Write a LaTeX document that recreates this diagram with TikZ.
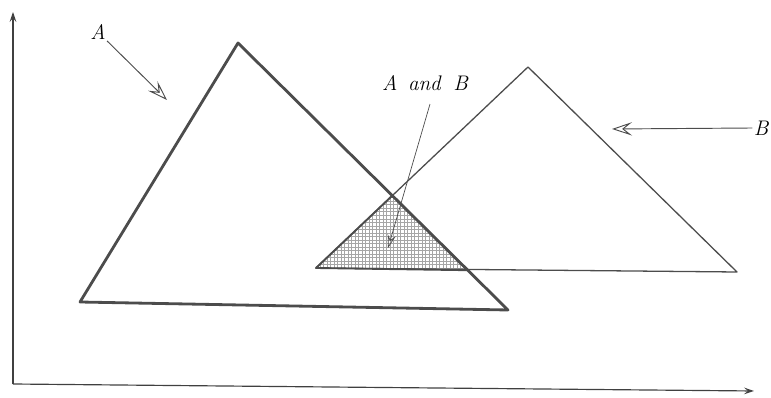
\documentclass[tikz,border=0pt]{standalone}
\usetikzlibrary{arrows.meta, patterns, calc}

\tikzset{
  tri/.style={draw=black!70, line join=round},
  lbl/.style={font=\fontsize{18}{21}\selectfont\itshape, inner sep=1pt},
  pointer/.style={draw=black!70, line width=0.8pt, -{Stealth[open, inset=2.5mm, length=6mm, width=4mm]}},
  axis/.style={draw=black!75, line width=1pt, -{Stealth[open, inset=1.2mm, length=3mm, width=2mm]}}
}

\begin{document}
\begin{tikzpicture}[x=0.3mm, y=-0.3mm]
    \useasboundingbox (0,0) rectangle (771,398);

    % axes
    \coordinate (O) at (13,384);
    \coordinate (ytop) at (13,12);
    \coordinate (xend) at (754,391);
    \draw[axis] (O) -- (ytop);
    \draw[axis] (O) -- (xend);

    % triangle A
    \coordinate (a1) at (80,302);
    \coordinate (a2) at (238,43);
    \coordinate (a3) at (508,310);
    % triangle B
    \coordinate (b1) at (316,268);
    \coordinate (b2) at (528,67);
    \coordinate (b3) at (737,272);
    % overlap
    \coordinate (c1) at (392.3,195.6);
    \coordinate (c2) at (467.5,270.2);

    \fill[pattern=grid, pattern color=black!35] (b1) -- (c1) -- (c2) -- cycle;
    \draw[tri, line width=1.6pt] (b1) -- (c1) -- (c2) -- cycle;
    \draw[tri, line width=1.1pt] (b1) -- (b2) -- (b3) -- cycle;
    \draw[tri, line width=2.4pt] (a1) -- (a2) -- (a3) -- cycle;

    % labels
    \node[lbl] (labA) at (98,32) {A};
    \node[lbl] (labB) at (761,128) {B};
    \node[lbl] (labAB) at (425,83) {A\hspace{0.5em}and\hspace{0.6em}B};

    \coordinate (tipA) at (167,100);
    \coordinate (tipB) at (612,129);
    \coordinate (tipAB) at (388,248);
    \draw[pointer] (labA.south east) -- (tipA);
    \draw[pointer] (labB.west) -- (tipB);
    \draw[pointer, line width=0.6pt, -{Stealth[open, inset=1.5mm, length=4mm, width=2.5mm]}] ($(labAB.south)+(5,12)$) -- (tipAB);
\end{tikzpicture}
\end{document}
